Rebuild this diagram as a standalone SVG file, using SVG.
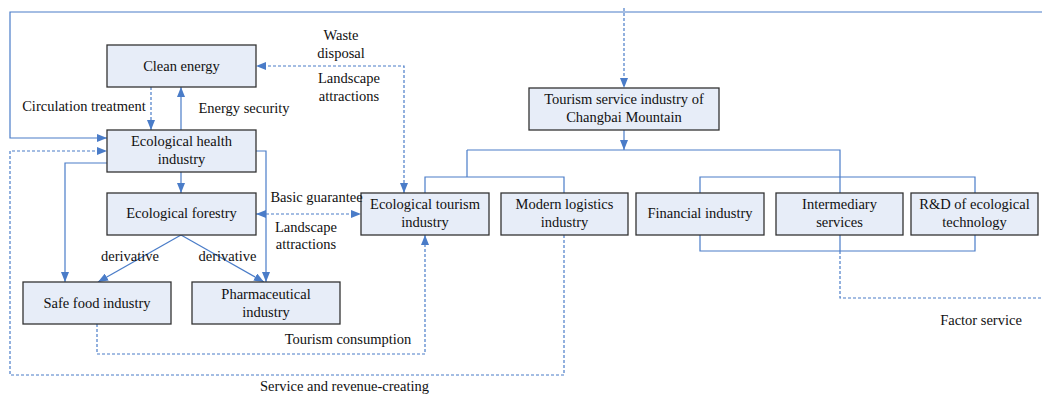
<svg xmlns="http://www.w3.org/2000/svg" width="1042" height="394" viewBox="0 0 1042 394">
<style>
.box{fill:#E7EDF8;stroke:#333;stroke-width:1.3}
.t{font-family:"Liberation Serif","Times New Roman",serif;font-size:14.5px;fill:#111;text-anchor:middle}
.s{fill:none;stroke:#4A7CC8;stroke-width:1.2}
.d{fill:none;stroke:#4A7CC8;stroke-width:1.2;stroke-dasharray:3,2}
</style>
<defs>
<marker id="a" viewBox="0 0 10 8" refX="10" refY="4" markerWidth="10" markerHeight="8" markerUnits="userSpaceOnUse" orient="auto-start-reverse">
<path d="M0,0 L10,4 L0,8 Z" fill="#4A7CC8"/>
</marker>
</defs>
<rect width="1042" height="394" fill="#fff"/>
<g id="connectors">
<path class="s" d="M1042,12 H10 V138 H107" marker-end="url(#a)"/>
<path class="d" d="M624,8 V88" marker-end="url(#a)"/>
<path class="s" d="M624,130 V150" marker-end="url(#a)"/>
<path class="s" d="M467,150 H840 V193"/>
<path class="s" d="M467,150 V177 M425,193 V177 H564 V193"/>
<path class="s" d="M700,193 V177 H975 V193"/>
<path class="s" d="M700,235 V251 H975 V235 M840,235 V251"/>
<path class="d" d="M840,251 V298 H1042"/>
<path class="d" d="M404,193 V66 H256" marker-start="url(#a)" marker-end="url(#a)"/>
<path class="d" d="M151,87 V130" marker-end="url(#a)"/>
<path class="s" d="M181,130 V87" marker-end="url(#a)"/>
<path class="s" d="M181,172 V193" marker-end="url(#a)"/>
<path class="s" d="M256,151 H266 V282" marker-end="url(#a)"/>
<path class="s" d="M107,163 H65 V282" marker-end="url(#a)"/>
<path class="d" d="M564,235 V375 H10 V151 H107" marker-end="url(#a)"/>
<path class="d" d="M97,324 V354 H425 V235" marker-end="url(#a)"/>
<path class="d" d="M256,214 H361" marker-start="url(#a)" marker-end="url(#a)"/>
<path class="s" d="M181,235 L98,282" marker-end="url(#a)"/>
<path class="s" d="M181,235 L264,282" marker-end="url(#a)"/>
</g>
<g id="clean-energy"><rect class="box" x="107" y="45" width="149" height="42"/><text class="t" x="181.5" y="71">Clean energy</text></g>
<g id="eco-health"><rect class="box" x="107" y="130" width="149" height="42"/><text class="t" x="181.5" y="146">Ecological health</text><text class="t" x="181.5" y="164">industry</text></g>
<g id="eco-forestry"><rect class="box" x="107" y="193" width="149" height="42"/><text class="t" x="181.5" y="218">Ecological forestry</text></g>
<g id="safe-food"><rect class="box" x="23" y="282" width="148" height="42"/><text class="t" x="97" y="307.5">Safe food industry</text></g>
<g id="pharma"><rect class="box" x="192" y="282" width="148" height="42"/><text class="t" x="266" y="299">Pharmaceutical</text><text class="t" x="266" y="317">industry</text></g>
<g id="eco-tourism"><rect class="box" x="361" y="193" width="128" height="42"/><text class="t" x="425" y="209">Ecological tourism</text><text class="t" x="425" y="227">industry</text></g>
<g id="logistics"><rect class="box" x="501" y="193" width="127" height="42"/><text class="t" x="564.5" y="209">Modern logistics</text><text class="t" x="564.5" y="227">industry</text></g>
<g id="tourism-service"><rect class="box" x="529" y="88" width="190" height="42"/><text class="t" x="624" y="104">Tourism service industry of</text><text class="t" x="624" y="122">Changbai Mountain</text></g>
<g id="financial"><rect class="box" x="636" y="193" width="128" height="42"/><text class="t" x="700" y="218">Financial industry</text></g>
<g id="intermediary"><rect class="box" x="776" y="193" width="127" height="42"/><text class="t" x="839.5" y="209">Intermediary</text><text class="t" x="839.5" y="227">services</text></g>
<g id="rd"><rect class="box" x="911" y="193" width="127" height="42"/><text class="t" x="974.5" y="209">R&amp;D of ecological</text><text class="t" x="974.5" y="227">technology</text></g>
<g id="labels">
<text class="t" x="341" y="40">Waste</text>
<text class="t" x="341" y="57.5">disposal</text>
<text class="t" x="349" y="83">Landscape</text>
<text class="t" x="349" y="101">attractions</text>
<text class="t" x="84" y="111">Circulation treatment</text>
<text class="t" x="244" y="113">Energy security</text>
<text class="t" x="316.5" y="201.5">Basic guarantee</text>
<text class="t" x="306" y="232">Landscape</text>
<text class="t" x="306" y="249">attractions</text>
<text class="t" x="130" y="261">derivative</text>
<text class="t" x="227.5" y="261">derivative</text>
<text class="t" x="348" y="344">Tourism consumption</text>
<text class="t" x="344.5" y="391">Service and revenue-creating</text>
<text class="t" x="981" y="325">Factor service</text>
</g>
</svg>
